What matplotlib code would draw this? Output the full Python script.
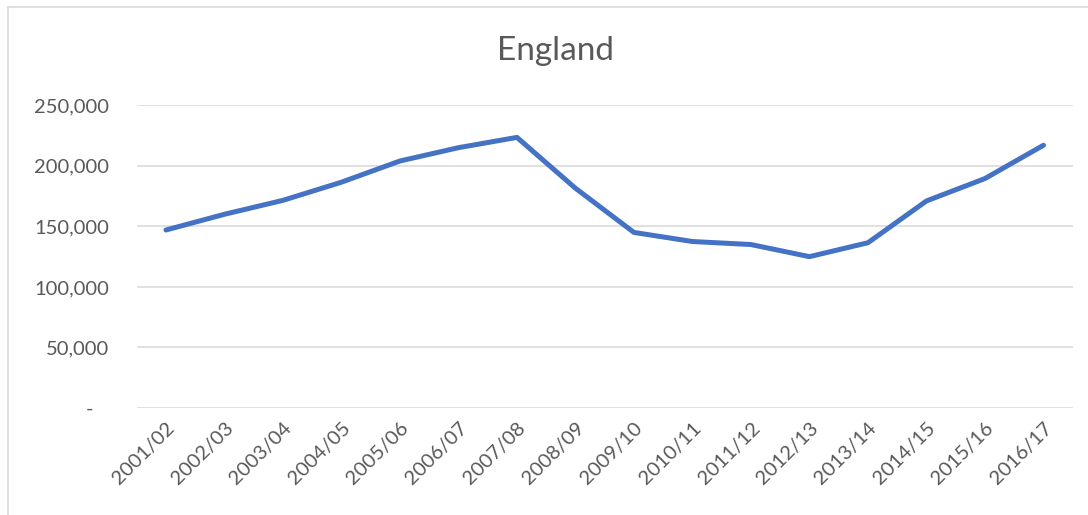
import matplotlib.pyplot as plt
from matplotlib.lines import Line2D
from matplotlib.ticker import FuncFormatter

# Yıllara göre İngiltere değerleri
yillar = ['2001/02', '2002/03', '2003/04', '2004/05', '2005/06', '2006/07',
          '2007/08', '2008/09', '2009/10', '2010/11', '2011/12', '2012/13',
          '2013/14', '2014/15', '2015/16', '2016/17']
degerler = [147000, 160000, 171500, 186500, 204000, 215000, 223500, 181500,
            145000, 137500, 135000, 125000, 136500, 171000, 189500, 217000]
y_tikler = [0, 50000, 100000, 150000, 200000, 250000]

plt.rcParams['font.family'] = ['Lato', 'DejaVu Sans']
yazi_rengi = '#595959'
izgara_rengi = '#D9D9D9'

fig = plt.figure(figsize=(10.88, 5.15), dpi=100)
ax = fig.add_axes([136.7 / 1088, 107 / 515, 936 / 1088, 302.7 / 515])

x = range(len(yillar))
ax.plot(x, degerler, color='#4472C4', linewidth=3.6, solid_capstyle='round',
        solid_joinstyle='round', zorder=3)

ax.set_xlim(-0.5, len(yillar) - 0.5)
ax.set_ylim(0, 250000)
ax.set_yticks(y_tikler)
# sıfır değeri muhasebe biçimindeki gibi "-" olarak yazılıyor
ax.yaxis.set_major_formatter(FuncFormatter(lambda v, p: '-   ' if v == 0 else f'{v:,.0f}'))
ax.set_xticks(list(x))
ax.set_xticklabels(yillar, rotation=45, ha='right', rotation_mode='anchor')

ax.grid(axis='y', color=izgara_rengi, linewidth=1.1)
ax.set_axisbelow(True)
for s in ax.spines.values():
    s.set_visible(False)
ax.tick_params(axis='both', length=0, labelsize=14.5, colors=yazi_rengi)
ax.tick_params(axis='y', pad=20)
ax.tick_params(axis='x', pad=8)

fig.text(555 / 1088, 1 - 51 / 515, 'England', ha='center', va='center',
         fontsize=24, color=yazi_rengi)

# grafik alanının çerçevesi (üst ve sol kenar)
fig.add_artist(Line2D([7.5 / 1088, 1], [1 - 6.5 / 515, 1 - 6.5 / 515],
                      color=izgara_rengi, linewidth=1.2))
fig.add_artist(Line2D([7.5 / 1088, 7.5 / 1088], [0, 1 - 6.5 / 515],
                      color=izgara_rengi, linewidth=1.2))

fig.savefig('out.png', dpi=100)
